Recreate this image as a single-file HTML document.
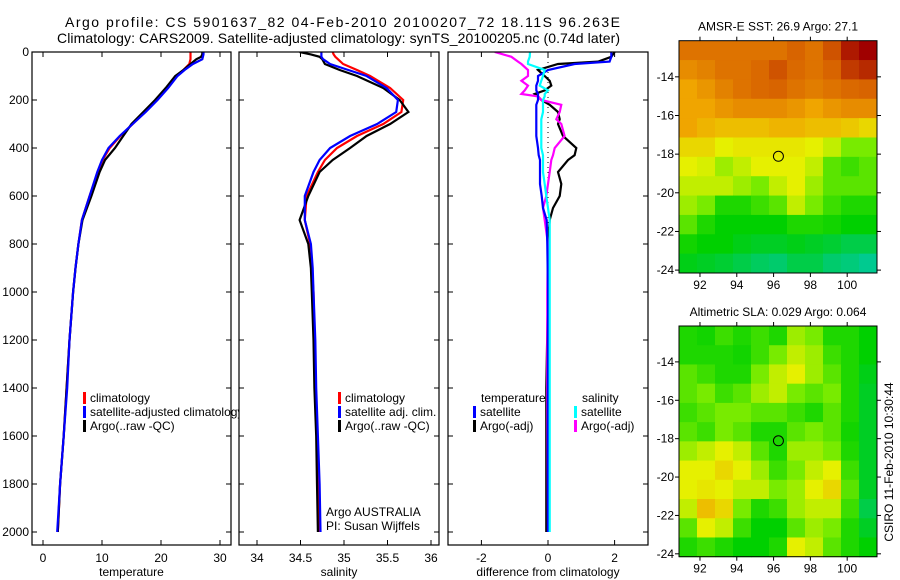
<!DOCTYPE html>
<html><head><meta charset="utf-8"><style>
html,body{margin:0;padding:0;background:#fff}
svg{display:block;font-family:"Liberation Sans",sans-serif}
text{fill:#000}
</style></head><body>
<svg id="fig" width="900" height="580" viewBox="0 0 900 580" xmlns="http://www.w3.org/2000/svg">
<rect width="900" height="580" fill="#fff"/>
<text x="65" y="27" font-size="14" textLength="555" lengthAdjust="spacing">Argo profile: CS 5901637_82 04-Feb-2010 20100207_72 18.11S 96.263E</text>
<text x="57" y="43" font-size="14" textLength="563" lengthAdjust="spacing">Climatology: CARS2009. Satellite-adjusted climatology: synTS_20100205.nc (0.74d later)</text>
<defs><clipPath id="c1"><rect x="32" y="52" width="207" height="494"/></clipPath>
<clipPath id="c2"><rect x="239" y="52" width="200" height="494"/></clipPath>
<clipPath id="c3"><rect x="448" y="52" width="200" height="494"/></clipPath></defs>
<g id="p1" clip-path="url(#c1)"></g>
<g id="p2" clip-path="url(#c2)"></g>
<g id="p3" clip-path="url(#c3)"></g>
<g id="axes"></g>
<g id="maps"></g>
<text transform="translate(893,462) rotate(-90)" font-size="12" text-anchor="middle">CSIRO 11-Feb-2010 10:30:44</text>
</svg>
<script>
const depth=[0,10,20,30,50,75,100,150,200,250,300,350,400,450,500,600,700,800,900,1000,1200,1400,1600,1800,2000];
const climT=[25.0,25.0,25.0,25.0,24.8,23.8,22.6,21.0,19.3,17.3,15.2,13.1,11.3,10.1,9.3,7.9,6.6,6.0,5.5,5.1,4.5,4.0,3.5,2.9,2.5];
const satT=[27.2,27.2,27.1,27.0,25.4,24.0,22.8,21.2,19.4,17.4,15.2,13.0,11.1,10.0,9.2,7.9,6.6,6.0,5.5,5.1,4.5,4.1,3.5,2.9,2.4];
const argoT=[27.0,27.0,26.8,26.0,25.0,23.8,22.4,20.8,19.0,17.0,15.0,13.6,12.2,10.5,9.6,8.2,6.7,6.0,5.5,5.1,4.5,4.0,3.5,2.9,2.5];
const climS=[34.87,34.88,34.9,34.93,34.99,35.15,35.3,35.53,35.68,35.66,35.45,35.15,34.92,34.78,34.7,34.57,34.55,34.61,34.63,34.65,34.66,34.67,34.69,34.71,34.72];
const satS=[34.74,34.74,34.74,34.76,34.84,35.05,35.26,35.49,35.62,35.6,35.38,35.07,34.84,34.72,34.65,34.55,34.55,34.62,34.64,34.65,34.67,34.68,34.7,34.72,34.73];
const argoS=[34.49,34.62,34.72,34.75,34.78,34.95,35.15,35.45,35.64,35.74,35.53,35.26,35.07,34.87,34.72,34.59,34.49,34.59,34.62,34.63,34.65,34.66,34.68,34.69,34.7];
const dd=[0,20,40,50,75,100,120,140,160,175,185,200,220,250,280,300,350,400,430,450,500,550,600,650,700,800,1000,1400,2000];
const dSatT=[1.9,1.9,1.85,0.8,0.0,-0.3,-0.3,-0.35,-0.35,-0.3,-0.3,-0.3,-0.35,-0.35,-0.35,-0.35,-0.35,-0.3,-0.28,-0.24,-0.24,-0.24,-0.19,-0.15,-0.04,-0.02,0,0,0];
const dArgoT=[2.0,1.9,1.5,0.3,-0.3,-0.1,0.05,0.1,-0.1,-0.4,-0.3,-0.2,0.05,0.3,0.35,0.3,0.45,0.85,0.8,0.6,0.3,0.4,0.35,0.15,0.05,0,0,-0.05,-0.05];
const dSatS=[-0.54,-0.55,-0.6,-0.6,-0.1,-0.15,-0.2,-0.25,0,-0.1,-0.1,-0.15,-0.15,-0.15,-0.2,-0.2,-0.2,-0.2,-0.15,-0.15,-0.15,-0.1,-0.05,0,0.05,0.05,0.05,0.05,0.05];
const dArgoS=[-1.6,-1.1,-0.9,-0.8,-0.6,-0.6,-0.8,-0.6,-0.7,-0.8,-0.3,-0.2,0.4,0.35,0.25,0.4,0.5,0.2,0.15,0.1,0.05,0,-0.05,-0.15,-0.1,0,-0.02,-0.02,0];
const depthTicks=[0,200,400,600,800,1000,1200,1400,1600,1800,2000];
const tTicks=[0,10,20,30];
const sTicks=[34,34.5,35,35.5,36];
const dTicks=[-2,0,2];
const lonTicks=[92,94,96,98,100];
const latTicks=[-14,-16,-18,-20,-22,-24];
const sstGrid=[
[.85,.85,.85,.85,.85,.85,.88,.85,.9,.97,1],
[.8,.82,.85,.85,.87,.9,.87,.85,.88,.93,.95],
[.75,.78,.82,.85,.87,.88,.85,.83,.85,.87,.88],
[.75,.75,.78,.8,.8,.8,.78,.75,.78,.8,.8],
[.75,.72,.7,.7,.7,.72,.72,.7,.7,.68,.65],
[.65,.65,.6,.62,.62,.62,.62,.6,.55,.45,.45],
[.6,.58,.5,.55,.6,.6,.6,.55,.4,.35,.4],
[.55,.55,.55,.5,.45,.55,.6,.5,.4,.4,.4],
[.5,.45,.3,.3,.35,.4,.55,.45,.35,.3,.3],
[.4,.3,.25,.25,.25,.25,.3,.3,.28,.25,.25],
[.28,.25,.25,.22,.2,.2,.22,.2,.18,.15,.15],
[.22,.2,.18,.15,.12,.1,.15,.15,.1,.08,.05]];
const slaGrid=[
[.3,.28,.35,.3,.35,.3,.5,.45,.3,.3,.25],
[.3,.3,.3,.28,.35,.45,.55,.5,.35,.3,.25],
[.4,.35,.3,.3,.45,.55,.6,.5,.4,.3,.22],
[.4,.45,.35,.4,.5,.55,.45,.4,.45,.3,.2],
[.35,.4,.45,.45,.4,.4,.35,.3,.4,.3,.2],
[.4,.35,.45,.4,.3,.3,.4,.45,.4,.28,.2],
[.5,.55,.6,.55,.4,.3,.5,.5,.45,.3,.2],
[.6,.6,.65,.6,.5,.35,.45,.55,.6,.35,.2],
[.6,.62,.6,.55,.55,.45,.5,.6,.65,.4,.2],
[.55,.7,.65,.45,.3,.35,.5,.55,.55,.35,.15],
[.4,.6,.55,.35,.25,.25,.4,.5,.45,.3,.2],
[.3,.35,.3,.25,.25,.3,.6,.55,.4,.3,.25]];
const argoLon=96.263, argoLat=-18.11;

const NS='http://www.w3.org/2000/svg';
function mk(tag,attrs,parent){const e=document.createElementNS(NS,tag);for(const k in attrs)e.setAttribute(k,attrs[k]);parent.appendChild(e);return e;}
const Y=d=>52+0.24*d;
const X1=v=>43+5.9*v, X2=v=>257+87*(v-34), X3=v=>548+33.3*v;
const TOP=52,BOT=545;
function line(g,xs,ds,X,color,name){
  const p=mk('polyline',{points:xs.map((v,i)=>X(v).toFixed(1)+','+Y(ds[i]).toFixed(1)).join(' '),fill:'none',stroke:color,'stroke-width':2.2,'stroke-linejoin':'miter'},g);
  
  
}
const p1=document.getElementById('p1'),p2=document.getElementById('p2'),p3=document.getElementById('p3'),ax=document.getElementById('axes');
line(p1,climT,depth,X1,'#f00','temp-climatology-line');
line(p1,argoT,depth,X1,'#000','temp-argo-line');
line(p1,satT,depth,X1,'#00f','temp-satellite-line');
line(p2,climS,depth,X2,'#f00','sal-climatology-line');
line(p2,argoS,depth,X2,'#000','sal-argo-line');
line(p2,satS,depth,X2,'#00f','sal-satellite-line');
const zl=mk('line',{x1:X3(0),x2:X3(0),y1:Y(0),y2:Y(1000),stroke:'#000','stroke-dasharray':'1,4'},p3);


line(p3,dArgoT,dd,X3,'#000','diff-temp-argo-line');
line(p3,dArgoS,dd,X3,'#f0f','diff-sal-argo-line');
line(p3,dSatT,dd,X3,'#00f','diff-temp-satellite-line');
line(p3,dSatS,dd,X3,'#0ff','diff-sal-satellite-line');

function txt(g,x,y,s,anchor,size,name){const t=mk('text',{x:x,y:y,'font-size':size||12,'text-anchor':anchor||'start'},g);t.textContent=s;return t;}
function panel(x0,x1,ticks,X,labels,xlabel,name){
  const r=mk('rect',{x:x0,y:TOP,width:x1-x0,height:BOT-TOP,fill:'none',stroke:'#000','stroke-width':1.2},ax);
  
  
  ticks.forEach(v=>{const x=X(v);
    mk('line',{x1:x,x2:x,y1:BOT,y2:BOT-5,stroke:'#000'},ax);
    mk('line',{x1:x,x2:x,y1:TOP,y2:TOP+5,stroke:'#000'},ax);
    txt(ax,x,562,String(v),'middle',12,name+'-x-tick-label');});
  depthTicks.forEach(d=>{const y=Y(d);
    mk('line',{x1:x0,x2:x0+5,y1:y,y2:y,stroke:'#000'},ax);
    mk('line',{x1:x1,x2:x1-5,y1:y,y2:y,stroke:'#000'},ax);
    if(labels)txt(ax,29,y+4,String(d),'end',12,'depth-tick-label');});
  txt(ax,(x0+x1)/2,576,xlabel,'middle',12,name+'-x-axis-title');
}
panel(32,231,tTicks,X1,true,'temperature','temperature-panel');
panel(239,439,sTicks,X2,false,'salinity','salinity-panel');
panel(448,648,dTicks,X3,false,'difference from climatology','difference-panel');

function legend(g,x,y,color,label,name){
  const b=mk('rect',{x:x,y:y-10,width:3,height:12,fill:color},g);
  
  
  txt(g,x+7,y,label,'start',12,name+'-label');
}
legend(p1,83,402,'#f00','climatology','legend-climatology');
legend(p1,83,416,'#00f','satellite-adjusted climatology','legend-satellite-adjusted');
legend(p1,83,430,'#000','Argo(..raw -QC)','legend-argo');
legend(p2,338,402,'#f00','climatology','legend-sal-climatology');
legend(p2,338,416,'#00f','satellite adj. clim.','legend-sal-satellite');
legend(p2,338,430,'#000','Argo(..raw -QC)','legend-sal-argo');
txt(p2,326,516,'Argo AUSTRALIA','start',12,'argo-australia-label');
txt(p2,326,530,'PI: Susan Wijffels','start',12,'pi-label');
txt(p3,481,402,'temperature','start',12,'legend-temperature-heading');
legend(p3,473,416,'#00f','satellite','legend-diff-temp-satellite');
legend(p3,473,430,'#000','Argo(-adj)','legend-diff-temp-argo');
txt(p3,582,402,'salinity','start',12,'legend-salinity-heading');
legend(p3,574,416,'#0ff','satellite','legend-diff-sal-satellite');
legend(p3,574,430,'#f0f','Argo(-adj)','legend-diff-sal-argo');

const stops=[[0,[0,200,180]],[0.25,[0,208,0]],[0.45,[120,235,0]],[0.6,[230,240,0]],[0.75,[240,165,0]],[0.88,[216,100,0]],[1,[160,0,0]]];
function cmap(v){for(let i=1;i<stops.length;i++){if(v<=stops[i][0]){const a=stops[i-1],b=stops[i],t=(v-a[0])/(b[0]-a[0]);return 'rgb('+a[1].map((c,k)=>Math.round(c+(b[1][k]-c)*t)).join(',')+')';}}return 'rgb(160,0,0)';}
const maps=document.getElementById('maps');
const LON0=90.86,LON1=101.62,LAT0=-12.13,LAT1=-24.15;
function drawMap(grid,top,bottom,title,name){
  const L=679,R=877;
  const MX=lon=>L+(lon-LON0)/(LON1-LON0)*(R-L);
  const MY=lat=>top+(lat-LAT0)/(LAT1-LAT0)*(bottom-top);
  const g=mk('g',{},maps);
  
  
  const nr=grid.length,nc=grid[0].length;
  grid.forEach((row,r)=>row.forEach((v,c)=>{
    const la=LAT0+(LAT1-LAT0)*r/nr, lb=LAT0+(LAT1-LAT0)*(r+1)/nr;
    const oa=LON0+(LON1-LON0)*c/nc, ob=LON0+(LON1-LON0)*(c+1)/nc;
    const cell=mk('rect',{x:MX(oa),y:MY(la),width:MX(ob)-MX(oa)+0.5,height:MY(lb)-MY(la)+0.5,fill:cmap(v)},g);
    
    
  }));
  const fr=mk('rect',{x:L,y:top,width:R-L,height:bottom-top,fill:'none',stroke:'#000','stroke-width':1},g);
  
  
  lonTicks.forEach(lo=>{const x=MX(lo);mk('line',{x1:x,x2:x,y1:bottom,y2:bottom+4,stroke:'#000'},g);mk('line',{x1:x,x2:x,y1:top,y2:top-4,stroke:'#000'},g);txt(g,x,bottom+16,String(lo),'middle',12,name+'-lon-label');});
  latTicks.forEach(la=>{const y=MY(la);mk('line',{x1:L,x2:L-4,y1:y,y2:y,stroke:'#000'},g);mk('line',{x1:R,x2:R+4,y1:y,y2:y,stroke:'#000'},g);txt(g,L-5,y+4,String(la),'end',12,name+'-lat-label');});
  const c=mk('circle',{cx:MX(argoLon),cy:MY(argoLat),r:5,fill:'none',stroke:'#000','stroke-width':1},g);
  
  
  txt(g,(L+R)/2,top-10,title,'middle',12,name+'-title');
}
drawMap(sstGrid,40.7,273,'AMSR-E SST: 26.9 Argo: 27.1','sst-map');
drawMap(slaGrid,326,556.7,'Altimetric SLA: 0.029 Argo: 0.064','sla-map');
</script>
</body></html>
